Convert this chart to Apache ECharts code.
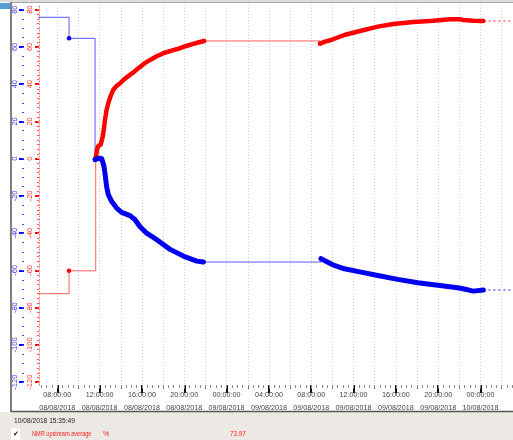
<!DOCTYPE html>
<html>
<head>
<meta charset="utf-8">
<script src="https://cdn.jsdelivr.net/npm/echarts@6/dist/echarts.min.js"></script>
<style>
  html, body { margin: 0; padding: 0; background: #fff; }
  #chart { width: 513px; height: 440px; }
</style>
</head>
<body>
<div id="chart"></div>
<script>
// x values are hours counted from 08/08/2018 00:00
var xMin = 6.27;
var xMax = 51.07;
var xLabelHours = [8, 12, 16, 20, 24, 28, 32, 36, 40, 44, 48];
var gridHours = [8, 10, 12, 14, 16, 18, 20, 22, 24, 26, 28, 30, 32, 34, 36, 38, 40, 42, 44, 46, 48, 50];
var yLabels = [-120, -100, -80, -60, -40, -20, 0, 20, 40, 60, 80];

// red trace (upper)
var redLead = [[5.0, -72.5], [9.11, -60.2]];
var redRun1 = [[11.63, 0.3], [11.72, 1.2], [11.78, 5.5], [11.9, 7], [12.1, 7.5], [12.22, 8.5], [12.3, 12],
    [12.4, 16], [12.51, 20.9], [12.65, 26], [12.82, 29.8], [13.0, 33], [13.29, 37], [13.6, 39],
    [13.94, 40.5], [14.4, 43], [14.87, 45], [15.2, 46.3], [15.66, 48.6], [16.2, 51], [16.77, 53],
    [17.4, 55], [18.02, 56.6], [18.8, 58], [19.6, 59.3], [20.2, 60.5], [20.85, 61.6], [21.4, 62.5], [21.87, 63.2]];
var redRun2 = [[32.83, 61.8], [33.3, 62.8], [33.87, 63.7], [35.13, 66.4], [36.71, 68.7], [38.29, 70.9],
    [39.76, 72.3], [41.65, 73.4], [43.54, 74.1], [45.12, 74.9], [46.0, 74.8], [46.37, 74.5],
    [47.32, 74.1], [48.27, 73.97]];

// blue trace (lower)
var blueLead = [[5.0, 75.9], [9.11, 64.6]];
var blueRun1 = [[11.57, -0.5], [11.8, 0], [12.0, 0.2], [12.2, 0], [12.41, -4.1], [12.5, -7.7],
    [12.66, -14.9], [12.82, -19.3], [13.13, -22.9], [13.61, -26.5], [14.08, -28.8], [14.87, -30.6],
    [15.35, -32.8], [15.8, -36.4], [16.45, -40], [17.4, -43.5], [18.66, -48.7], [19.91, -52.3],
    [21.18, -55], [21.8, -55.5]];
var blueRun2 = [[32.92, -53.7], [34.18, -57.3], [35.13, -59.1], [36.71, -60.9], [38.29, -62.7],
    [40.18, -64.8], [42.07, -66.6], [43.96, -68], [45.85, -69.3], [46.8, -70.4], [47.32, -71.1], [48.27, -70.5]];

var statusTime = '10/08/2018 15:35:49';
var statusName = 'NMR upstream average';
var statusUnit = '%';
var statusValue = '73.97';

var halfHours = [];
for (var h = 6.5; h < xMax; h += 0.5) halfHours.push(h);
var yMinor2 = [];
for (var v = -120; v <= 82; v += 2.5) yMinor2.push(v);
var yMinor5 = [];
for (var w = -120; w <= 82; w += 5) yMinor5.push(w);

function pad(n) { return (n < 10 ? '0' : '') + n; }
function hourLabel(val) {
    var hh = Math.round(val) % 24;
    var day = 8 + Math.floor(Math.round(val) / 24);
    return pad(hh) + ':00:00\n' + pad(day) + '/08/2018';
}

var FONT = 'Liberation Sans, Arial, sans-serif';
var yMin = -121.5, yMax = 82.5;

var chart = echarts.init(document.getElementById('chart'));

function first(run) { return run[0]; }
function last(run) { return run[run.length - 1]; }
function tail(run) { return [last(run), [xMax, last(run)[1]]]; }

function stepSeries(axis, data, dotColor, lineColor) {
    return {
        type: 'line', yAxisIndex: axis, step: 'end', clip: true, data: data,
        symbol: 'circle', symbolSize: 4.5, showSymbol: true,
        itemStyle: { color: dotColor },
        lineStyle: { color: lineColor, width: 1 }, z: 2
    };
}
function runSeries(axis, data, color, width) {
    return {
        type: 'line', yAxisIndex: axis, data: data, symbol: 'none',
        lineStyle: { color: color, width: width, cap: 'round', join: 'round' }, z: 3
    };
}
function tailSeries(axis, run, color) {
    return {
        type: 'line', yAxisIndex: axis, data: tail(run), symbol: 'none',
        lineStyle: { color: color, width: 1.5, type: [2, 3] }, z: 2
    };
}

var option = {
    backgroundColor: '#fff',
    animation: false,
    grid: { left: 39, right: 0, top: 5, bottom: 55, containLabel: false },
    xAxis: [
        {
            type: 'value', min: xMin, max: xMax, position: 'bottom',
            axisLine: { show: false, onZero: false },
            axisTick: { show: true, customValues: xLabelHours, length: 8, lineStyle: { color: '#111', width: 2 } },
            axisLabel: {
                customValues: xLabelHours, formatter: hourLabel, color: '#444',
                fontFamily: FONT, fontSize: 7.2, lineHeight: 12.5, margin: 4
            },
            splitLine: { show: false }
        },
        {
            type: 'value', min: xMin, max: xMax, position: 'bottom',
            axisLine: { show: false, onZero: false },
            axisTick: { show: true, customValues: gridHours, length: 4, lineStyle: { color: '#666', width: 1 } },
            axisLabel: { show: false },
            splitLine: { show: true, lineStyle: { color: '#cfcfcf', type: [1, 2], width: 1 } }
        },
        {
            type: 'value', min: xMin, max: xMax, position: 'bottom',
            axisLine: { show: false, onZero: false },
            axisTick: { show: true, customValues: halfHours, length: 3, lineStyle: { color: '#888', width: 1 } },
            axisLabel: { show: false },
            splitLine: { show: false }
        }
    ],
    yAxis: [
        {
            type: 'value', min: yMin, max: yMax, position: 'left', offset: 0,
            axisLine: { show: false },
            axisTick: { show: true, customValues: yLabels, length: 4, lineStyle: { color: '#ff0000', width: 2 } },
            axisLabel: { customValues: yLabels, rotate: 90, color: '#ff3030', fontFamily: FONT, fontSize: 7.5, margin: 5 },
            splitLine: { show: false }
        },
        {
            type: 'value', min: yMin, max: yMax, position: 'left', offset: 0,
            axisLine: { show: true, onZero: false, lineStyle: { color: '#ff7070', type: [1, 2], width: 1 } },
            axisTick: { show: true, customValues: yMinor2, length: 2, lineStyle: { color: '#ff5050', width: 1 } },
            axisLabel: { show: false },
            splitLine: { show: false }
        },
        {
            type: 'value', min: yMin, max: yMax, position: 'left', offset: 15,
            axisLine: { show: false },
            axisTick: { show: true, customValues: yLabels, length: 5, lineStyle: { color: '#0000ff', width: 2 } },
            axisLabel: { customValues: yLabels, rotate: 90, color: '#3a3aff', fontFamily: FONT, fontSize: 7.5, margin: 5 },
            splitLine: { show: false }
        },
        {
            type: 'value', min: yMin, max: yMax, position: 'left', offset: 15,
            axisLine: { show: false },
            axisTick: { show: true, customValues: yMinor5, length: 2, lineStyle: { color: '#4a4aff', width: 1 } },
            axisLabel: { show: false },
            splitLine: { show: false }
        }
    ],
    series: [
        // thin step lines: lead-in and the gap between the two sample runs
        stepSeries(0, redLead.concat([first(redRun1)]), '#ff0000', '#ff6060'),
        stepSeries(0, [last(redRun1), first(redRun2)], '#ff0000', '#ff6060'),
        stepSeries(2, blueLead.concat([first(blueRun1)]), '#0000ff', '#5a5aff'),
        stepSeries(2, [last(blueRun1), first(blueRun2)], '#0000ff', '#5a5aff'),
        // dense sample runs
        runSeries(0, redRun1, '#ff0000', 4.5),
        runSeries(0, redRun2, '#ff0000', 4.5),
        runSeries(2, blueRun1, '#0000f0', 5),
        runSeries(2, blueRun2, '#0000f0', 5),
        // last value carried to the right edge
        tailSeries(0, redRun2, '#ff6a6a'),
        tailSeries(2, blueRun2, '#6a6aff')
    ],
    graphic: [
        { type: 'rect', shape: { x: 0, y: 0, width: 513, height: 2 }, style: { fill: '#dcdcdc' }, silent: true },
        { type: 'line', shape: { x1: 11, y1: 2.5, x2: 513, y2: 2.5 }, style: { stroke: '#a8a8a8', lineWidth: 1 }, silent: true },
        { type: 'rect', shape: { x: 0, y: 3, width: 10, height: 6 }, style: { fill: '#5b9bd5' }, silent: true },
        { type: 'line', shape: { x1: 11, y1: 2, x2: 11, y2: 412 }, style: { stroke: '#555', lineWidth: 1.5 }, silent: true },
        { type: 'rect', shape: { x: 0, y: 412, width: 513, height: 28 }, style: { fill: '#ece9e4' }, silent: true },
        { type: 'line', shape: { x1: 11, y1: 411.5, x2: 513, y2: 411.5 }, style: { stroke: '#555', lineWidth: 1.5 }, silent: true },
        { type: 'rect', shape: { x: 11, y: 428, width: 9, height: 12 }, style: { fill: '#fff' }, silent: true },
        { type: 'text', x: 14, y: 421, scaleX: 0.95, style: { text: statusTime, fill: '#222', font: '7px ' + FONT, textVerticalAlign: 'middle' }, silent: true },
        { type: 'text', x: 13, y: 434, style: { text: '\u2714', fill: '#111', font: '7px DejaVu Sans', textVerticalAlign: 'middle' }, silent: true },
        { type: 'text', x: 32, y: 434, scaleX: 0.8, style: { text: statusName, fill: '#ff2020', font: '7px ' + FONT, textVerticalAlign: 'middle' }, silent: true },
        { type: 'text', x: 103, y: 434, style: { text: statusUnit, fill: '#ff2020', font: '7px ' + FONT, textVerticalAlign: 'middle' }, silent: true },
        { type: 'text', x: 230, y: 434, scaleX: 0.9, style: { text: statusValue, fill: '#ff2020', font: '7px ' + FONT, textVerticalAlign: 'middle' }, silent: true }
    ]
};

chart.setOption(option);
</script>
</body>
</html>
